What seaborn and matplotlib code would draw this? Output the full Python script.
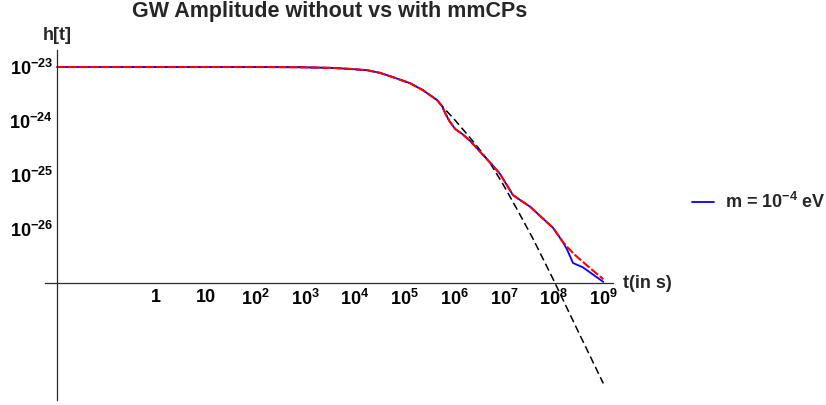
import numpy as np
import pandas as pd
import matplotlib
matplotlib.use("Agg")
import matplotlib.pyplot as plt
from matplotlib.ticker import FixedLocator, FixedFormatter, NullLocator
from matplotlib.lines import Line2D
import seaborn as sns

sns.set_theme(style="white")
plt.rcParams["font.family"] = ["Liberation Sans", "DejaVu Sans"]
plt.rcParams["font.weight"] = "bold"
plt.rcParams["mathtext.fontset"] = "custom"
plt.rcParams["mathtext.rm"] = "Liberation Sans:bold"
plt.rcParams["mathtext.it"] = "Liberation Sans:bold"
plt.rcParams["mathtext.bf"] = "Liberation Sans:bold"

# ---- data (log10 of time in s, log10 of strain amplitude) ----
# early plateau, identical for all three curves
log_t_common = [-2.0, -1.0, 0.0, 1.0, 2.0, 2.9, 3.5, 3.9, 4.25, 4.51, 4.77, 5.11, 5.37, 5.65, 5.75]
log_h_common = [-23.0, -23.0, -23.0, -23.0, -23.0, -23.005, -23.015, -23.035, -23.06, -23.11,
                -23.19, -23.30, -23.43, -23.61, -23.72]

# without mmCPs (black dashed)
log_t_vac = [6.02, 6.28, 6.52, 6.72, 6.98, 7.26, 7.59, 7.99, 8.49, 9.0]
log_h_vac = [-23.99, -24.27, -24.54, -24.78, -25.17, -25.63, -26.19, -26.93, -27.89, -28.86]

# with mmCPs, common middle part
log_t_mid = [5.82, 5.9, 6.02, 6.16, 6.32, 6.56, 6.76, 6.92, 7.06, 7.18, 7.32, 7.53, 7.73, 7.99, 8.17]
log_h_mid = [-23.86, -24.0, -24.15, -24.24, -24.37, -24.61, -24.81, -24.98, -25.19, -25.37, -25.46,
             -25.59, -25.76, -25.98, -26.22]

# late-time tails
log_t_blue_tail = [8.27, 8.39, 8.59, 9.0]
log_h_blue_tail = [-26.38, -26.63, -26.71, -26.98]
log_t_red_tail = [8.29, 8.43, 8.69, 9.0]
log_h_red_tail = [-26.35, -26.48, -26.69, -26.93]

x_tick_exps = [0, 1, 2, 3, 4, 5, 6, 7, 8, 9]
y_tick_exps = [-23, -24, -25, -26, -27]

title = "GW Amplitude without vs with mmCPs"
legend_label = r"m = $10^{-4}$ eV"


def curve(lt, lh):
    lt = np.asarray(lt, float)
    lh = np.asarray(lh, float)
    return pd.DataFrame({"t": 10.0 ** lt, "h": 10.0 ** lh})


vac = curve(log_t_common + log_t_vac, log_h_common + log_h_vac)
blue = curve(log_t_common + log_t_mid + log_t_blue_tail, log_h_common + log_h_mid + log_h_blue_tail)
red = curve(log_t_common + log_t_mid + log_t_red_tail, log_h_common + log_h_mid + log_h_red_tail)

W, H = 826, 405
FS = 13
fig = plt.figure(figsize=(W / 100, H / 100), dpi=100)
ax = fig.add_axes([45 / W, 1 - 400 / H, 568 / W, 350 / H])
ax.set_xscale("log")
ax.set_yscale("log")

sns.lineplot(data=vac, x="t", y="h", color="black", lw=1.1, linestyle=(0, (5, 2.5)),
             estimator=None, sort=False, ax=ax)
sns.lineplot(data=blue, x="t", y="h", color="#0000ff", lw=1.3,
             estimator=None, sort=False, ax=ax)
sns.lineplot(data=red, x="t", y="h", color="#ff0000", lw=1.5, linestyle=(0, (4.2, 1.1)),
             estimator=None, sort=False, ax=ax)

ax.set_xlim(10 ** -2.2414, 10 ** 9.195)
ax.set_ylim(10 ** -29.167, 10 ** -22.685)
ax.set_xlabel("")
ax.set_ylabel("")

axis_col = "#2b2b2b"
for s in ("top", "right"):
    ax.spines[s].set_visible(False)
ax.spines["left"].set_position(("data", 1e-2))
ax.spines["bottom"].set_position(("data", 1e-27))
for s in ("left", "bottom"):
    ax.spines[s].set_color(axis_col)
    ax.spines[s].set_linewidth(0.9)

xt = [10.0 ** k for k in x_tick_exps]
xl = ["1" if k == 0 else ("10" if k == 1 else rf"$10^{{{k}}}$") for k in x_tick_exps]
yt = [10.0 ** k for k in y_tick_exps]
yl = [rf"$10^{{{k}}}$" if k != -27 else "" for k in y_tick_exps]
ax.xaxis.set_major_locator(FixedLocator(xt))
ax.xaxis.set_major_formatter(FixedFormatter(xl))
ax.yaxis.set_major_locator(FixedLocator(yt))
ax.yaxis.set_major_formatter(FixedFormatter(yl))
ax.xaxis.set_minor_locator(NullLocator())
ax.yaxis.set_minor_locator(NullLocator())
ax.tick_params(axis="both", which="major", direction="in", length=3, width=0.8,
               color=axis_col, labelsize=FS, labelcolor="black")
ax.tick_params(axis="x", pad=4.5)
ax.tick_params(axis="y", pad=3)
ax.grid(False)
ax.set_facecolor("white")

fig.text(330 / W, 1 - 12 / H, title, ha="center", va="center", fontsize=15.5, weight="bold")
fig.text(57 / W, 1 - 35 / H, "h[t]", ha="center", va="center", fontsize=FS, weight="bold")
fig.text(623 / W, 1 - 284 / H, "t(in s)", ha="left", va="center", fontsize=FS, weight="bold")

if ax.get_legend() is not None:
    ax.get_legend().remove()
handle = Line2D([], [], color="#0000ff", lw=1.3)
fig.legend(handles=[handle], labels=[legend_label], loc="center left",
           bbox_to_anchor=(692 / W, 1 - 202 / H), frameon=False, borderpad=0,
           borderaxespad=0, handlelength=1.2, handletextpad=0.65,
           prop={"weight": "bold", "size": FS})

fig.savefig("out.png", dpi=100, facecolor="white")
